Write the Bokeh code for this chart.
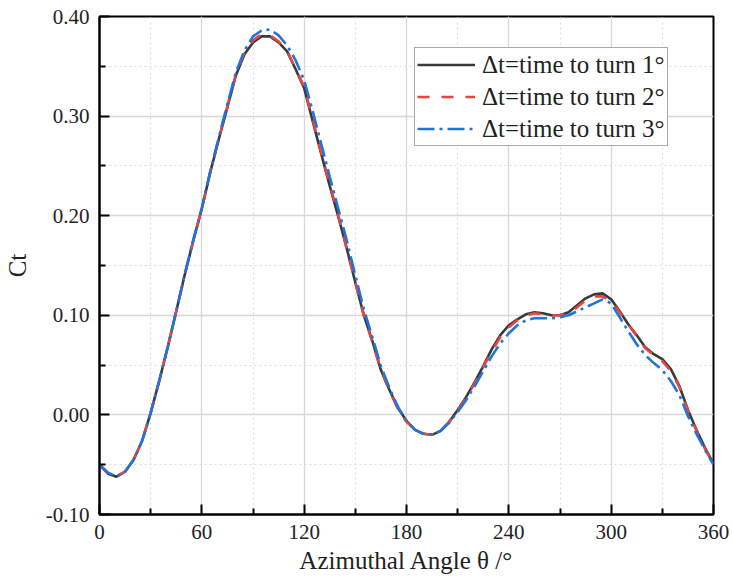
from bokeh.plotting import figure
from bokeh.models import (Range1d, FixedTicker, Legend, LegendItem,
                          CustomJSTickFormatter)
from bokeh.embed import file_html
from bokeh.resources import INLINE

theta = [0, 5, 10, 15, 20, 25, 30, 35, 40, 45, 50, 55, 60, 65, 70, 75, 80, 85,
         90, 95, 100, 105, 110, 115, 120, 125, 130, 135, 140, 145, 150, 155,
         160, 165, 170, 175, 180, 185, 190, 195, 200, 205, 210, 215, 220, 225,
         230, 235, 240, 245, 250, 255, 260, 265, 270, 275, 280, 285, 290, 295,
         300, 305, 310, 315, 320, 325, 330, 335, 340, 345, 350, 355, 360]

ct_1deg = [-0.050, -0.059, -0.062, -0.057, -0.045, -0.026, 0.002, 0.034, 0.068,
           0.104, 0.141, 0.175, 0.207, 0.244, 0.277, 0.309, 0.341, 0.362,
           0.374, 0.380, 0.380, 0.374, 0.365, 0.347, 0.328, 0.295, 0.262,
           0.230, 0.199, 0.167, 0.133, 0.100, 0.074, 0.045, 0.025, 0.007,
           -0.006, -0.015, -0.019, -0.020, -0.016, -0.007, 0.005, 0.018,
           0.033, 0.049, 0.066, 0.080, 0.090, 0.096, 0.101, 0.103, 0.102,
           0.100, 0.100, 0.103, 0.110, 0.117, 0.121, 0.122, 0.116, 0.104,
           0.091, 0.080, 0.068, 0.061, 0.056, 0.046, 0.029, 0.005, -0.015,
           -0.033, -0.049]

ct_2deg = [-0.050, -0.059, -0.062, -0.057, -0.045, -0.026, 0.002, 0.034, 0.068,
           0.104, 0.141, 0.175, 0.207, 0.244, 0.278, 0.310, 0.342, 0.364,
           0.376, 0.382, 0.381, 0.375, 0.365, 0.348, 0.329, 0.297, 0.263,
           0.231, 0.200, 0.167, 0.133, 0.100, 0.073, 0.045, 0.024, 0.006,
           -0.007, -0.015, -0.019, -0.020, -0.016, -0.007, 0.005, 0.017,
           0.032, 0.048, 0.064, 0.078, 0.088, 0.095, 0.100, 0.102, 0.101,
           0.100, 0.100, 0.102, 0.108, 0.115, 0.119, 0.119, 0.114, 0.103,
           0.091, 0.079, 0.067, 0.060, 0.054, 0.044, 0.028, 0.005, -0.016,
           -0.034, -0.049]

ct_3deg = [-0.050, -0.058, -0.062, -0.057, -0.045, -0.026, 0.002, 0.034, 0.068,
           0.104, 0.141, 0.176, 0.208, 0.245, 0.279, 0.312, 0.344, 0.366,
           0.380, 0.386, 0.387, 0.381, 0.371, 0.356, 0.336, 0.305, 0.272,
           0.239, 0.207, 0.175, 0.140, 0.106, 0.078, 0.049, 0.027, 0.008,
           -0.006, -0.015, -0.019, -0.020, -0.016, -0.008, 0.003, 0.015,
           0.029, 0.044, 0.059, 0.072, 0.082, 0.090, 0.095, 0.097, 0.097,
           0.097, 0.098, 0.100, 0.104, 0.108, 0.112, 0.116, 0.112, 0.098,
           0.084, 0.071, 0.060, 0.052, 0.045, 0.034, 0.020, -0.001, -0.019,
           -0.035, -0.050]

labels = ["\u0394t=time to turn 1\u00b0", "\u0394t=time to turn 2\u00b0",
          "\u0394t=time to turn 3\u00b0"]
x_ticks = [0, 60, 120, 180, 240, 300, 360]
y_ticks = [-0.10, 0.00, 0.10, 0.20, 0.30, 0.40]
x_title = "Azimuthal Angle \u03b8 /\u00b0"
y_title = "Ct"

FONT = "Liberation Serif"

p = figure(width=732, height=582, output_backend="svg", toolbar_location=None,
           x_range=Range1d(0, 360), y_range=Range1d(-0.10, 0.40),
           min_border_left=98, min_border_right=19, min_border_top=16,
           min_border_bottom=68)
p.background_fill_color = "white"
p.border_fill_color = "white"
p.outline_line_color = "black"
p.outline_line_width = 2

for ax, ticks in ((p.xaxis, x_ticks), (p.yaxis, y_ticks)):
    ax.ticker = FixedTicker(ticks=ticks,
                            minor_ticks=[(ticks[i] + ticks[i + 1]) / 2
                                         for i in range(len(ticks) - 1)])
    ax.axis_line_width = 2
    ax.axis_line_color = "black"
    ax.major_tick_in = 10
    ax.major_tick_out = 0
    ax.major_tick_line_width = 2
    ax.major_tick_line_color = "black"
    ax.minor_tick_in = 6
    ax.minor_tick_out = 0
    ax.minor_tick_line_width = 2
    ax.minor_tick_line_color = "black"
    ax.major_label_text_font = FONT
    ax.major_label_text_font_size = "21px"
    ax.major_label_text_color = "#222222"
    ax.major_label_standoff = 10
    ax.axis_label_text_font = FONT
    ax.axis_label_text_font_style = "normal"
    ax.axis_label_text_font_size = "25px"
    ax.axis_label_text_color = "#222222"

p.xaxis.axis_label = x_title
p.xaxis.axis_label_standoff = 5
p.yaxis.axis_label = y_title
p.yaxis.axis_label_standoff = 12

p.yaxis.formatter = CustomJSTickFormatter(code="return tick.toFixed(2);")
p.xaxis.formatter = CustomJSTickFormatter(code="return tick.toFixed(0);")

for g in (p.xgrid, p.ygrid):
    g.grid_line_color = "#d8d8d8"
    g.grid_line_width = 1.3
    g.minor_grid_line_color = "#dddddd"
    g.minor_grid_line_width = 1.2
    g.minor_grid_line_dash = "2 3"

r1 = p.line(theta, ct_1deg, line_color="#3a3a3a", line_width=2.6)
r2 = p.line(theta, ct_2deg, line_color="#e8453c", line_width=2.6,
            line_dash="12 12")
r3 = p.line(theta, ct_3deg, line_color="#2473d8", line_width=2.6,
            line_dash="17 5 3 5")

legend = Legend(items=[LegendItem(label=labels[0], renderers=[r1]),
                       LegendItem(label=labels[1], renderers=[r2]),
                       LegendItem(label=labels[2], renderers=[r3])],
                location=(315, 368))
legend.label_text_font = FONT
legend.label_text_font_size = "25px"
legend.label_text_color = "#222222"
legend.glyph_width = 58
legend.glyph_height = 29
legend.label_height = 29
legend.label_standoff = 7
legend.spacing = 3
legend.padding = 2
legend.margin = 0
legend.border_line_color = "#555555"
legend.border_line_width = 1.5
legend.background_fill_alpha = 1
p.add_layout(legend)

open("out.html", "w").write(file_html(p, INLINE))
